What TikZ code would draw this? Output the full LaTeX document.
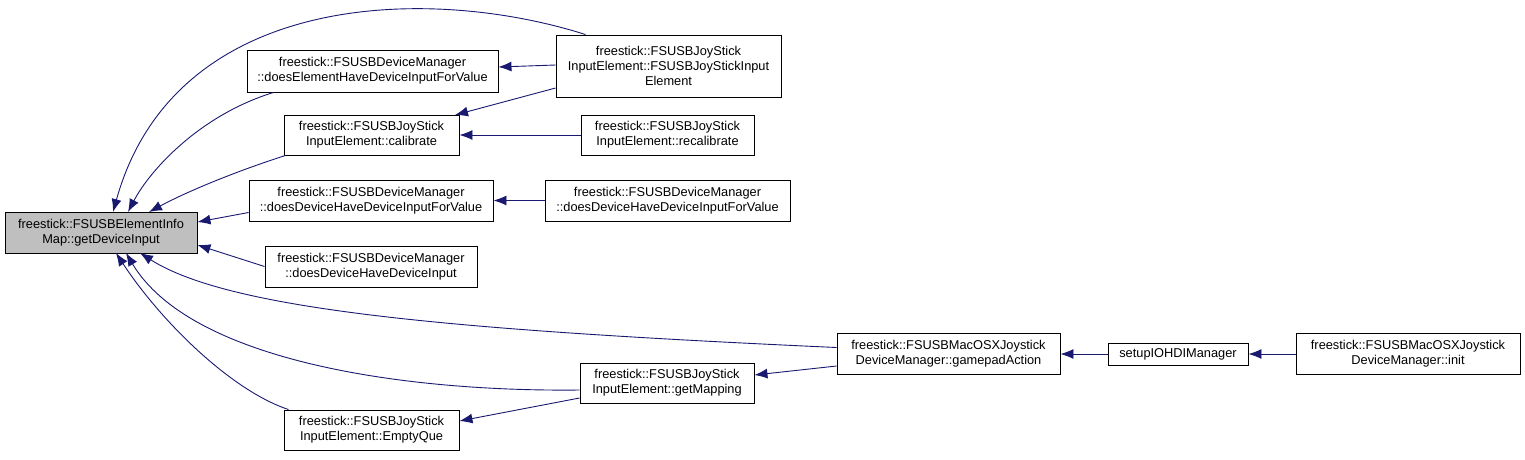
\documentclass[tikz,border=0pt]{standalone}
\usepackage{fontspec}
\setmainfont{Liberation Sans}
\usetikzlibrary{arrows.meta}
\definecolor{calledge}{HTML}{191970}
\definecolor{focusgray}{HTML}{BFBFBF}
\tikzset{
  fn/.style={draw=black,line width=0.9pt,rectangle,inner sep=0pt,align=center,
    font=\fontsize{12.8}{15}\selectfont},
  focus/.style={fn,fill=focusgray},
  call/.style={draw=calledge,line width=0.9pt,-{Latex[length=13pt,width=10pt]}}
}

\begin{document}
\begin{tikzpicture}[x=1pt,y=-1pt]
  \useasboundingbox (0,0) rectangle (1525,459);
  % callee
  \node[focus,minimum width=192pt,minimum height=41pt] (info) at (101,232.5)
    {freestick::FSUSBElementInfo\\Map::getDeviceInput};
  % direct callers
  \node[fn,minimum width=251pt,minimum height=42pt] (elemval) at (372.5,71)
    {freestick::FSUSBDeviceManager\\::doesElementHaveDeviceInputForValue};
  \node[fn,minimum width=225pt,minimum height=62pt] (ctor) at (668.5,66)
    {freestick::FSUSBJoyStick\\InputElement::FSUSBJoyStickInput\\Element};
  \node[fn,minimum width=175pt,minimum height=40pt] (calib) at (371.5,135)
    {freestick::FSUSBJoyStick\\InputElement::calibrate};
  \node[fn,minimum width=173pt,minimum height=40pt] (recalib) at (667.5,135)
    {freestick::FSUSBJoyStick\\InputElement::recalibrate};
  \node[fn,minimum width=244pt,minimum height=41pt] (devval) at (371,200.5)
    {freestick::FSUSBDeviceManager\\::doesDeviceHaveDeviceInputForValue};
  \node[fn,minimum width=245pt,minimum height=41pt] (devval2) at (667.5,200.5)
    {freestick::FSUSBDeviceManager\\::doesDeviceHaveDeviceInputForValue};
  \node[fn,minimum width=212pt,minimum height=41pt] (devinput) at (371,266.5)
    {freestick::FSUSBDeviceManager\\::doesDeviceHaveDeviceInput};
  \node[fn,minimum width=174pt,minimum height=40pt] (mapping) at (667,383)
    {freestick::FSUSBJoyStick\\InputElement::getMapping};
  \node[fn,minimum width=175pt,minimum height=40pt] (emptyque) at (371.5,430)
    {freestick::FSUSBJoyStick\\InputElement::EmptyQue};
  \node[fn,minimum width=223pt,minimum height=41pt] (gamepad) at (948.5,353.5)
    {freestick::FSUSBMacOSXJoystick\\DeviceManager::gamepadAction};
  \node[fn,minimum width=140pt,minimum height=22pt] (setup) at (1178,354)
    {setupIOHDIManager};
  \node[fn,minimum width=224pt,minimum height=41pt] (init) at (1408,353.5)
    {freestick::FSUSBMacOSXJoystick\\DeviceManager::init};

  % edges into getDeviceInput
  \draw[call] ([xshift=30pt]ctor.north west) .. controls (430,-15) and (175,-10) .. (113,212);
  \draw[call] ([xshift=27pt]elemval.south west) .. controls (200,115) and (150,170) .. (128,212);
  \draw[call] ([xshift=2pt]calib.south west) .. controls (240,170) and (190,190) .. (149,212);
  \draw[call] ([yshift=-12pt]devval.west) -- (info.east |- 0,222);
  \draw[call] (devinput.west) -- (info.east |- 0,245);
  \draw[call] ([yshift=6pt]gamepad.west) .. controls (450,330) and (230,310) .. (140,253);
  \draw[call] ([yshift=-7pt]mapping.west) .. controls (400,392) and (190,360) .. (126,253);
  \draw[call] ([xshift=5pt]emptyque.north west) .. controls (230,390) and (160,320) .. (116,253);
  % other edges
  \draw[call] (ctor.west |- 0,65) -- (elemval.east |- 0,67);
  \draw[call] (ctor.west |- 0,88) -- (455,115);
  \draw[call] (recalib.west) -- (calib.east);
  \draw[call] (devval2.west) -- (devval.east);
  \draw[call] (gamepad.west |- 0,366) -- (mapping.east |- 0,375);
  \draw[call] (mapping.west |- 0,398) -- (emptyque.east |- 0,421);
  \draw[call] (setup.west) -- (gamepad.east |- setup);
  \draw[call] (init.west |- setup) -- (setup.east);
\end{tikzpicture}
\end{document}
